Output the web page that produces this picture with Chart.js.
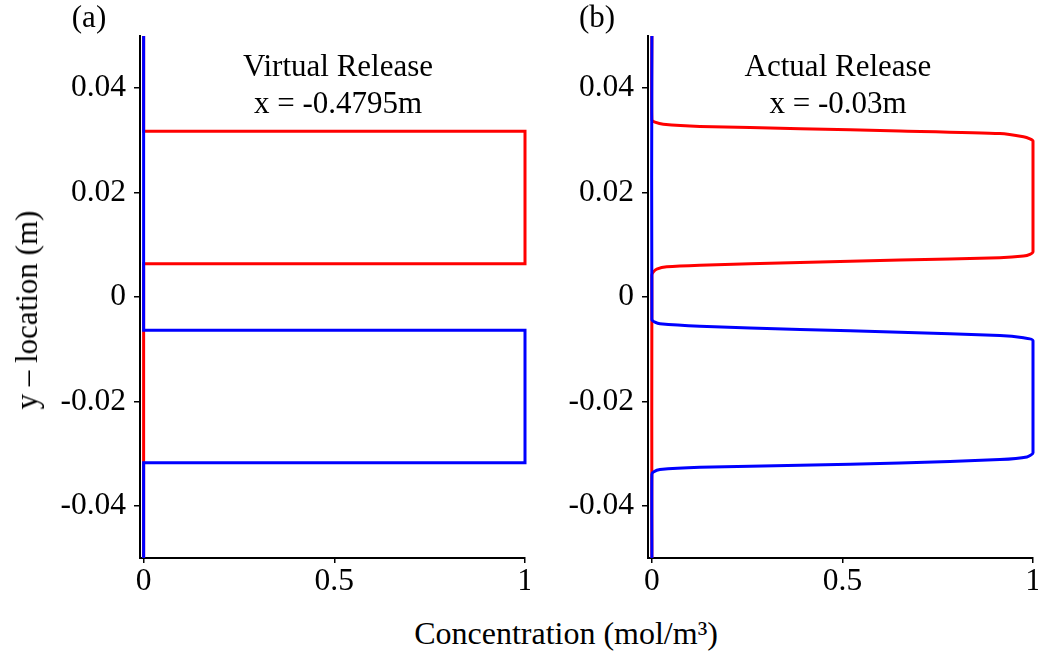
<!DOCTYPE html>
<html>
<head>
<meta charset="utf-8">
<script src="https://cdn.jsdelivr.net/npm/chart.js@4.4.1/dist/chart.umd.min.js"></script>
<style>
  html, body { margin: 0; padding: 0; background: #fff; width: 1038px; height: 655px; overflow: hidden; }
  canvas { position: absolute; top: 0; }
  .lbl { position: absolute; font-family: "Liberation Serif", "Times New Roman", serif; font-size: 31px; line-height: 30px; color: #000; white-space: nowrap; }
  .c { transform: translateX(-50%); }
</style>
</head>
<body>
<canvas id="chartA" width="530" height="608" style="left:0px"></canvas>
<canvas id="chartB" width="530" height="608" style="left:508px"></canvas>

<div class="lbl c" style="left:89px; top:2px;">(a)</div>
<div class="lbl c" style="left:597px; top:2px;">(b)</div>
<div class="lbl c" style="left:338px; top:51px;">Virtual Release</div>
<div class="lbl c" style="left:338px; top:88px;">x = -0.4795m</div>
<div class="lbl c" style="left:838px; top:51px;">Actual Release</div>
<div class="lbl c" style="left:838px; top:88px;">x = -0.03m</div>
<div class="lbl" style="left:27px; top:310px; transform: translate(-50%,-50%) rotate(-90deg);">y – location (m)</div>
<div class="lbl c" style="left:566px; top:618px; font-size:32px;">Concentration (mol/m³)</div>

<script>
// ---- tick labels ----
const yTickValues = [-0.04, -0.02, 0, 0.02, 0.04];
const yTickLabels = ['-0.04', '-0.02', '0', '0.02', '0.04'];
const xTickValues = [0, 0.5, 1];
const xTickLabels = ['0', '0.5', '1'];

// ---- (a) Virtual release: y-location (m) and concentration ----
const virtualRedY = [-0.05, 0.00635, 0.00635, 0.03175, 0.03175, 0.05];
const virtualRedC = [0, 0, 1, 1, 0, 0];
const virtualBlueY = [-0.05, -0.03175, -0.03175, -0.00635, -0.00635, 0.05];
const virtualBlueC = [0, 0, 1, 1, 0, 0];

// ---- (b) Actual release ----
const actualRedY = [-0.05, 0.0042, 0.00482, 0.00534, 0.00578, 0.0061, 0.00663, 0.00707, 0.00752, 0.00784, 0.00817, 0.00867,
                    0.0299, 0.0303, 0.0307, 0.0313, 0.0318, 0.03225, 0.03268, 0.0331, 0.0335, 0.0339, 0.05];
const actualRedC = [0, 0, 0.004, 0.0126, 0.039, 0.126, 0.389, 0.651, 0.913, 0.975, 0.992, 1,
                    1, 0.992, 0.975, 0.913, 0.651, 0.389, 0.126, 0.03, 0.008, 0, 0];
const actualBlueY = [-0.05, -0.034, -0.03353, -0.03306, -0.03262, -0.03224, -0.03179, -0.03114, -0.03064, -0.02986,
                     -0.00834, -0.00782, -0.00738, -0.00674, -0.00622, -0.00559, -0.00513, -0.00482, -0.00436, 0.05];
const actualBlueC = [0, 0, 0.004, 0.021, 0.126, 0.389, 0.651, 0.913, 0.984, 1,
                     1, 0.975, 0.913, 0.651, 0.389, 0.126, 0.021, 0.008, 0, 0];

const RED = '#ff0000';
const BLUE = '#0000ff';

Chart.defaults.font.family = '"Liberation Serif", "Times New Roman", serif';
Chart.defaults.font.size = 31.5;
Chart.defaults.color = '#000';

function pts(ys, cs) { return ys.map((y, i) => ({ x: cs[i], y: y })); }

function makeChart(id, redY, redC, blueY, blueC, xMin, tension) {
  return new Chart(document.getElementById(id), {
    type: 'scatter',
    data: {
      datasets: [
        { data: pts(redY, redC), showLine: true, borderColor: RED, borderWidth: 3, pointRadius: 0, tension: tension, order: 2, clip: false },
        { data: pts(blueY, blueC), showLine: true, borderColor: BLUE, borderWidth: 3, pointRadius: 0, tension: tension, order: 1, clip: false }
      ]
    },
    options: {
      responsive: false,
      animation: false,
      devicePixelRatio: 1,
      layout: { padding: { left: 0, right: 5, top: 36, bottom: 0 } },
      plugins: { legend: { display: false }, tooltip: { enabled: false } },
      scales: {
        x: {
          type: 'linear', min: xMin, max: 1,
          border: { display: true, color: '#000', width: 2 },
          grid: { drawOnChartArea: false, drawTicks: true, tickLength: 5, color: '#000', lineWidth: 1.5 },
          afterBuildTicks: s => { s.ticks = xTickValues.map(v => ({ value: v })); },
          ticks: { padding: 0, maxRotation: 0, autoSkip: false,
                   callback: (v) => { const i = xTickValues.indexOf(v); return i >= 0 ? xTickLabels[i] : ''; } },
          afterFit: s => { s.height = 50; s.paddingLeft = 0; s.paddingRight = 0; }
        },
        y: {
          type: 'linear', min: -0.05, max: 0.05,
          border: { display: true, color: '#000', width: 2 },
          grid: { drawOnChartArea: false, drawTicks: true, tickLength: 6, color: '#000', lineWidth: 1.5 },
          afterBuildTicks: s => { s.ticks = yTickValues.map(v => ({ value: v })); },
          ticks: { padding: 8, autoSkip: false,
                   callback: (v) => { const i = yTickValues.findIndex(t => Math.abs(t - v) < 1e-9); return i >= 0 ? yTickLabels[i] : ''; } },
          afterFit: s => { s.width = 140; s.paddingTop = 0; s.paddingBottom = 0; }
        }
      }
    }
  });
}

makeChart('chartA', virtualRedY, virtualRedC, virtualBlueY, virtualBlueC, -0.0095, 0);
makeChart('chartB', actualRedY, actualRedC, actualBlueY, actualBlueC, -0.0102, 0.2);
</script>
</body>
</html>
